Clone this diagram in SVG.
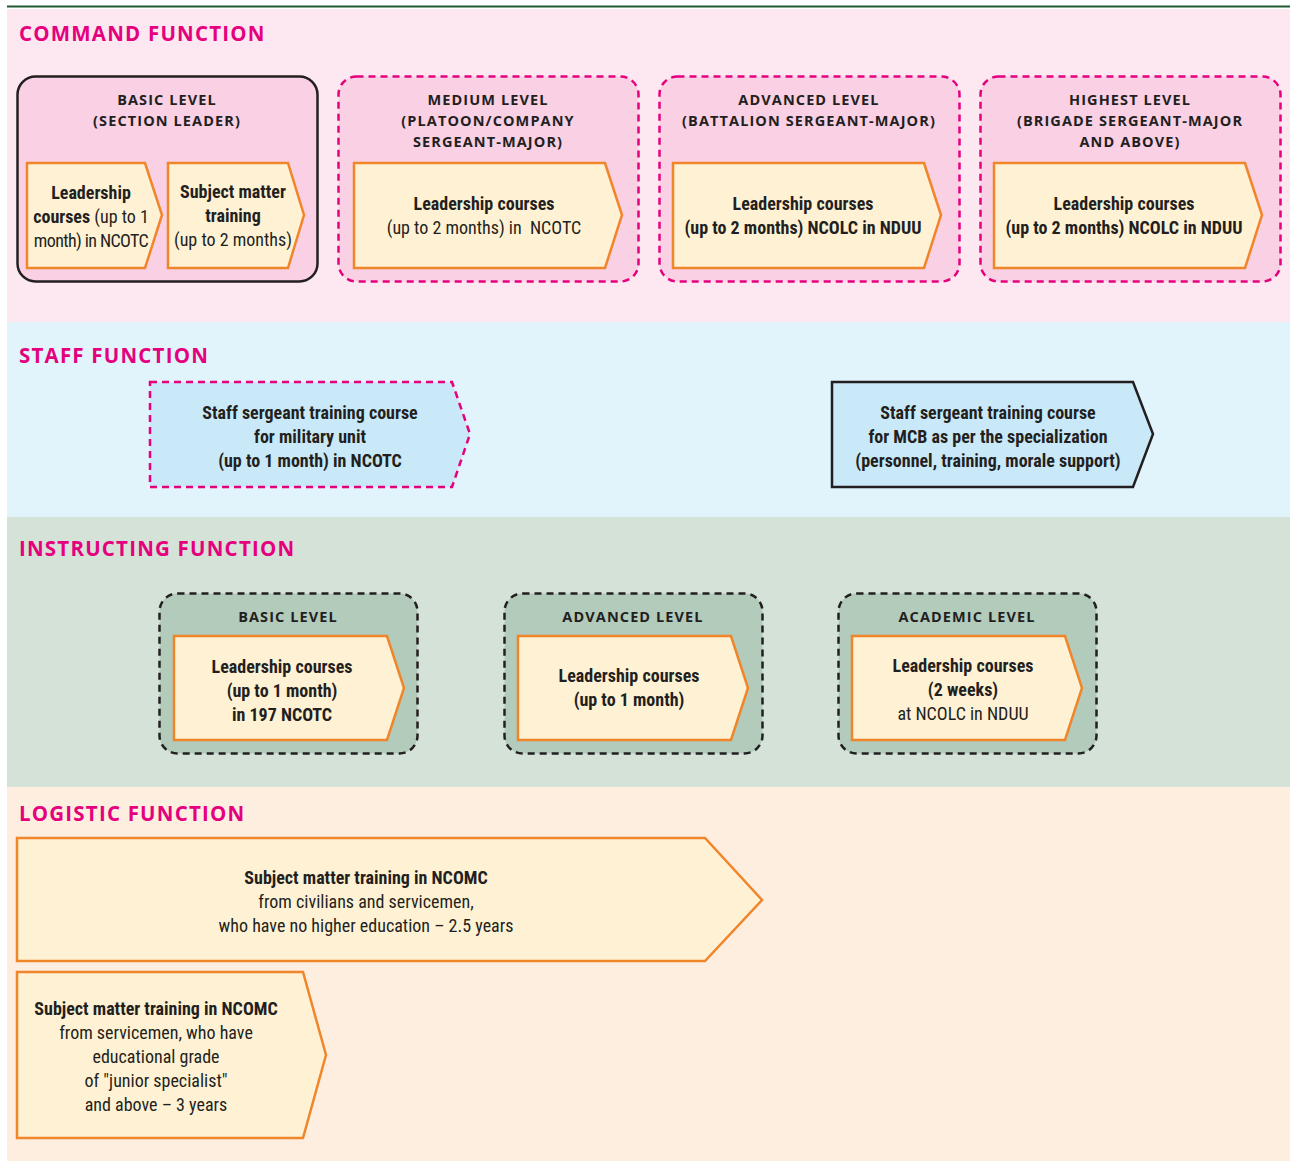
<svg xmlns="http://www.w3.org/2000/svg" width="1290" height="1163" viewBox="0 0 1290 1163">
<style>
.title{font-family:"Open Sans","Liberation Sans",sans-serif;font-weight:700;font-size:20.5px;fill:#e5007e;letter-spacing:1.2px}
.hdr{font-family:"Open Sans","Liberation Sans",sans-serif;font-weight:700;font-size:14.5px;fill:#231f20;letter-spacing:1.1px;text-anchor:middle}
.t{font-family:"Liberation Sans Narrow","Roboto Condensed","DejaVu Sans Condensed",sans-serif;font-size:18px;fill:#231f20;text-anchor:middle}
.b{font-weight:700}
.arrow{fill:#fff2d4;stroke:#f0852a;stroke-width:2.5;stroke-linejoin:miter}
.pinkbox{fill:#f9d0e4;stroke:#e5007e;stroke-width:2.5;stroke-dasharray:7 5}
.greenbox{fill:#b2cbbb;stroke:#231f20;stroke-width:2.5;stroke-dasharray:7 5}
</style>
<rect x="7" y="9" width="1283" height="313" fill="#fde8f1"/>
<rect x="7" y="322" width="1283" height="195" fill="#e1f3fb"/>
<rect x="7" y="517" width="1283" height="270" fill="#d4e2d8"/>
<rect x="7" y="787" width="1283" height="374" fill="#fdeee0"/>
<line x1="7" y1="6.5" x2="1290" y2="6.5" stroke="#1e5a32" stroke-width="2"/>
<text class="title" x="19" y="41">COMMAND FUNCTION</text>
<text class="title" x="19" y="363">STAFF FUNCTION</text>
<text class="title" x="19" y="556">INSTRUCTING FUNCTION</text>
<text class="title" x="19" y="821">LOGISTIC FUNCTION</text>

<g id="cmd-basic">
<rect x="17.5" y="76.5" width="300" height="205" rx="18" fill="#f9d0e4" stroke="#231f20" stroke-width="2.5"/>
<text class="hdr" x="167" y="105">BASIC LEVEL</text>
<text class="hdr" x="167" y="126">(SECTION LEADER)</text>
<path class="arrow" d="M27 163H145L162 215L145 268H27Z"/>
<text class="t" x="91" y="199"><tspan class="b">Leadership</tspan></text>
<text class="t" x="91" y="223"><tspan class="b">courses</tspan> (up to 1</text>
<text class="t" x="91" y="247" letter-spacing="-0.6">month) in NCOTC</text>
<path class="arrow" d="M168 163H288L304 215L288 268H168Z"/>
<text class="t b" x="233" y="198">Subject matter</text>
<text class="t b" x="233" y="222">training</text>
<text class="t" x="233" y="246">(up to 2 months)</text>
</g>

<g id="cmd-medium">
<rect class="pinkbox" x="338.5" y="76.5" width="300" height="205" rx="18"/>
<text class="hdr" x="488" y="105">MEDIUM LEVEL</text>
<text class="hdr" x="488" y="126">(PLATOON/COMPANY</text>
<text class="hdr" x="488" y="147">SERGEANT-MAJOR)</text>
<path class="arrow" d="M354 163H605L622 215L605 268H354Z"/>
<text class="t b" x="484" y="210">Leadership courses</text>
<text class="t" x="484" y="234" xml:space="preserve">(up to 2 months) in  NCOTC</text>
</g>

<g id="cmd-advanced">
<rect class="pinkbox" x="659.5" y="76.5" width="300" height="205" rx="18"/>
<text class="hdr" x="809" y="105">ADVANCED LEVEL</text>
<text class="hdr" x="809" y="126">(BATTALION SERGEANT-MAJOR)</text>
<path class="arrow" d="M673 163H924L941 215L924 268H673Z"/>
<text class="t b" x="803" y="210">Leadership courses</text>
<text class="t b" x="803" y="234">(up to 2 months) NCOLC in NDUU</text>
</g>

<g id="cmd-highest">
<rect class="pinkbox" x="980.5" y="76.5" width="300" height="205" rx="18"/>
<text class="hdr" x="1130" y="105">HIGHEST LEVEL</text>
<text class="hdr" x="1130" y="126">(BRIGADE SERGEANT-MAJOR</text>
<text class="hdr" x="1130" y="147">AND ABOVE)</text>
<path class="arrow" d="M994 163H1245L1262 215L1245 268H994Z"/>
<text class="t b" x="1124" y="210">Leadership courses</text>
<text class="t b" x="1124" y="234">(up to 2 months) NCOLC in NDUU</text>
</g>

<g id="staff-unit">
<path d="M150 382H452L470 434L452 487H150Z" fill="#c9e9f8" stroke="#e5007e" stroke-width="2.5" stroke-dasharray="7 5"/>
<text class="t b" x="310" y="419">Staff sergeant training course</text>
<text class="t b" x="310" y="443">for military unit</text>
<text class="t b" x="310" y="467">(up to 1 month) in NCOTC</text>
</g>

<g id="staff-mcb">
<path d="M832 382H1133L1153 434L1133 487H832Z" fill="#c9e9f8" stroke="#231f20" stroke-width="2.5"/>
<text class="t b" x="988" y="419">Staff sergeant training course</text>
<text class="t b" x="988" y="443">for MCB as per the specialization</text>
<text class="t b" x="988" y="467">(personnel, training, morale support)</text>
</g>

<g id="instr-basic">
<rect class="greenbox" x="159.5" y="593.5" width="258" height="160" rx="18"/>
<text class="hdr" x="288" y="622">BASIC LEVEL</text>
<path class="arrow" d="M174 636H387L404 688L387 740H174Z"/>
<text class="t b" x="282" y="673">Leadership courses</text>
<text class="t b" x="282" y="697">(up to 1 month)</text>
<text class="t b" x="282" y="721">in 197 NCOTC</text>
</g>

<g id="instr-advanced">
<rect class="greenbox" x="504.5" y="593.5" width="258" height="160" rx="18"/>
<text class="hdr" x="633" y="622">ADVANCED LEVEL</text>
<path class="arrow" d="M518 636H731L748 688L731 740H518Z"/>
<text class="t b" x="629" y="682">Leadership courses</text>
<text class="t b" x="629" y="706">(up to 1 month)</text>
</g>

<g id="instr-academic">
<rect class="greenbox" x="838.5" y="593.5" width="258" height="160" rx="18"/>
<text class="hdr" x="967" y="622">ACADEMIC LEVEL</text>
<path class="arrow" d="M852 636H1065L1082 688L1065 740H852Z"/>
<text class="t b" x="963" y="672">Leadership courses</text>
<text class="t b" x="963" y="696">(2 weeks)</text>
<text class="t" x="963" y="720">at NCOLC in NDUU</text>
</g>

<g id="log-civilians">
<path class="arrow" d="M17 838H705L762 900L705 961H17Z"/>
<text class="t b" x="366" y="884">Subject matter training in NCOMC</text>
<text class="t" x="366" y="908">from civilians and servicemen,</text>
<text class="t" x="366" y="932">who have no higher education – 2.5 years</text>
</g>

<g id="log-servicemen">
<path class="arrow" d="M17 972H303L326 1055L303 1138H17Z"/>
<text class="t b" x="156" y="1015">Subject matter training in NCOMC</text>
<text class="t" x="156" y="1039">from servicemen, who have</text>
<text class="t" x="156" y="1063">educational grade</text>
<text class="t" x="156" y="1087">of "junior specialist"</text>
<text class="t" x="156" y="1111">and above – 3 years</text>
</g>

<g id="connectors"></g>
</svg>
